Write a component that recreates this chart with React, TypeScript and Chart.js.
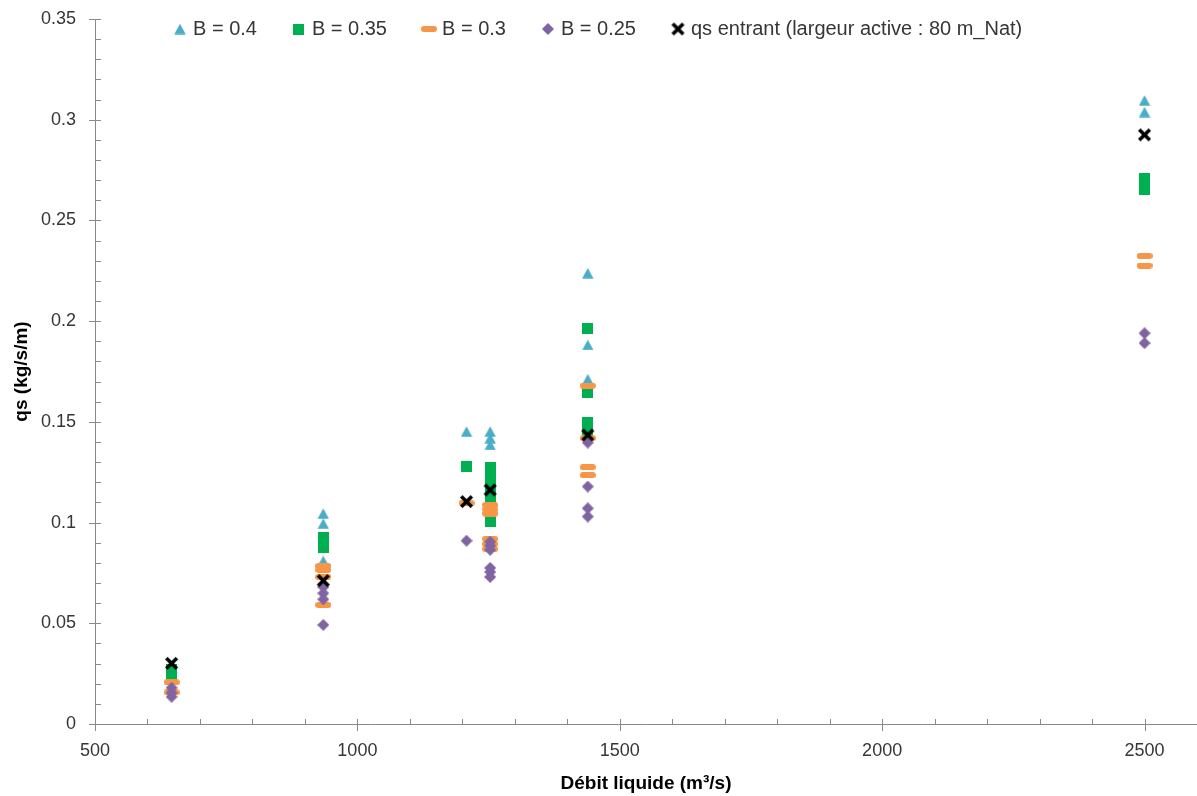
import { useEffect, useRef } from 'react';
import { Chart, registerables } from 'chart.js';

Chart.register(...registerables);

// Axis tick labels
const xTickValues = [500, 1000, 1500, 2000, 2500];
const yTickValues = [0, 0.05, 0.1, 0.15, 0.2, 0.25, 0.3, 0.35];

// Series labels
const seriesLabels = [
  'B = 0.4',
  'B = 0.35',
  'B = 0.3',
  'B = 0.25',
  'qs entrant (largeur active : 80 m_Nat)',
];

// [Débit liquide (m3/s), qs (kg/s/m)]
const b040: [number, number][] = [
  [646, 0.028],
  [935, 0.1045], [935, 0.0995], [935, 0.081],
  [1208, 0.1452],
  [1253, 0.1452], [1253, 0.1419], [1253, 0.1386], [1253, 0.1142],
  [1439, 0.2238], [1439, 0.1882], [1439, 0.1712],
  [2500, 0.3096], [2500, 0.3038],
];

const b035: [number, number][] = [
  [646, 0.027], [646, 0.024],
  [935, 0.0924], [935, 0.0874],
  [1208, 0.1278],
  [1253, 0.1275], [1253, 0.124], [1253, 0.1205], [1253, 0.117], [1253, 0.112],
  [1253, 0.108], [1253, 0.104], [1253, 0.1005],
  [1439, 0.1962], [1439, 0.1645], [1439, 0.1496], [1439, 0.1455],
  [2500, 0.2707], [2500, 0.2655],
];

const b030: [number, number][] = [
  [646, 0.0207], [646, 0.0157],
  [935, 0.0785], [935, 0.0765], [935, 0.073], [935, 0.0591],
  [1208, 0.1096],
  [1253, 0.1087], [1253, 0.1065], [1253, 0.1045], [1253, 0.0919], [1253, 0.0894], [1253, 0.0869],
  [1439, 0.168], [1439, 0.1419], [1439, 0.1275], [1439, 0.1235],
  [2500, 0.2324], [2500, 0.2276],
];

const b025: [number, number][] = [
  [646, 0.018], [646, 0.0155], [646, 0.0135],
  [935, 0.068], [935, 0.0649], [935, 0.0619], [935, 0.0492],
  [1208, 0.091],
  [1253, 0.0905], [1253, 0.0885], [1253, 0.0865], [1253, 0.0775], [1253, 0.0755], [1253, 0.073],
  [1439, 0.1397], [1439, 0.1179], [1439, 0.1071], [1439, 0.103],
  [2500, 0.194], [2500, 0.1891],
];

const qsEntrant: [number, number][] = [
  [646, 0.0301],
  [935, 0.0712],
  [1208, 0.1104],
  [1253, 0.1162],
  [1439, 0.1435],
  [2500, 0.2925],
];

const COLORS = ['#4BACC6', '#00B050', '#F79646', '#8064A2', '#000000'];
const FONT = "'Liberation Sans', Arial, sans-serif";
const TEXT = '#363636';
const AXIS = '#898989';
const LEGEND_PAD = 39;
const LEGEND_FONT = 20;

function makeMarker(kind: string, color: string): HTMLCanvasElement {
  const c = document.createElement('canvas');
  let w = 12, h = 12;
  if (kind === 'triangle') { w = 12; h = 11; }
  else if (kind === 'square') { w = 11; h = 11; }
  else if (kind === 'dash') { w = 16; h = 6; }
  else if (kind === 'diamond') { w = 12; h = 12; }
  else if (kind === 'cross') { w = 15; h = 15; }
  c.width = w; c.height = h;
  const g = c.getContext('2d')!;
  g.fillStyle = color;
  g.strokeStyle = color;
  g.beginPath();
  if (kind === 'triangle') {
    g.moveTo(w / 2, 0.3);
    g.lineTo(w - 0.3, h - 0.3);
    g.lineTo(0.3, h - 0.3);
    g.closePath();
    g.fill();
  } else if (kind === 'square') {
    g.rect(0, 0, w, h);
    g.fill();
  } else if (kind === 'dash') {
    const r = h / 2;
    g.moveTo(r, 0);
    g.lineTo(w - r, 0);
    g.arc(w - r, r, r, -Math.PI / 2, Math.PI / 2);
    g.lineTo(r, h);
    g.arc(r, r, r, Math.PI / 2, Math.PI * 1.5);
    g.closePath();
    g.fill();
  } else if (kind === 'diamond') {
    g.moveTo(w / 2, 0);
    g.lineTo(w, h / 2);
    g.lineTo(w / 2, h);
    g.lineTo(0, h / 2);
    g.closePath();
    g.fill();
  } else if (kind === 'cross') {
    g.lineWidth = 3.6;
    g.lineCap = 'butt';
    g.moveTo(2.2, 2.2); g.lineTo(w - 2.2, h - 2.2);
    g.moveTo(w - 2.2, 2.2); g.lineTo(2.2, h - 2.2);
    g.stroke();
  }
  return c;
}

const toPoints = (arr: [number, number][]) => arr.map(([x, y]) => ({ x, y }));

const tickMarksPlugin = {
  id: 'excelTickMarks',
  afterDraw(chart: any) {
    const { ctx, scales } = chart;
    const xs = scales.x;
    const ys = scales.y;
    const axisY = Math.round(chart.chartArea.bottom) + 0.5;
    const axisX = Math.round(chart.chartArea.left) + 0.5;
    ctx.save();
    ctx.strokeStyle = AXIS;
    ctx.lineWidth = 1;
    ctx.beginPath();
    // x axis: major every 500 (crossing), minor every 100 (inside)
    for (let v = xs.min; v <= xs.max + 1e-6; v += 100) {
      const px = Math.round(xs.getPixelForValue(v)) + 0.5;
      const major = Math.abs(v % 500) < 1e-6;
      ctx.moveTo(px, axisY - 5.5);
      ctx.lineTo(px, major ? axisY + 6.5 : axisY);
    }
    // y axis: major every 0.05 (crossing), minor every 0.01 (inside)
    for (let i = 0; i <= 35; i++) {
      const v = i / 100;
      const py = Math.round(ys.getPixelForValue(v)) + 0.5;
      const major = i % 5 === 0;
      ctx.moveTo(major ? axisX - 6.5 : axisX, py);
      ctx.lineTo(axisX + 5.5, py);
    }
    ctx.stroke();
    ctx.restore();
  },
};

const legendPlacer = {
  id: 'legendPlacer',
  beforeDraw(chart: any) {
    const lg = chart.legend;
    if (!lg) return;
    lg.left = 177 - LEGEND_PAD;
    lg.right = 1197;
    lg.top = 29 - LEGEND_FONT / 2 - LEGEND_PAD;
    lg.bottom = lg.top + lg.height;
  },
};

export default function App() {
  const canvasRef = useRef<HTMLCanvasElement | null>(null);

  useEffect(() => {
    document.body.style.margin = '0';
    const canvas = canvasRef.current;
    if (!canvas) return;
    const markers = [
      makeMarker('triangle', COLORS[0]),
      makeMarker('square', COLORS[1]),
      makeMarker('dash', COLORS[2]),
      makeMarker('diamond', COLORS[3]),
      makeMarker('cross', COLORS[4]),
    ];
    const series = [b040, b035, b030, b025, qsEntrant];
    const datasets = series.map((s, i) => ({
      label: seriesLabels[i],
      data: toPoints(s),
      pointStyle: markers[i] as any,
      pointRadius: 6,
      pointHoverRadius: 6,
      backgroundColor: COLORS[i],
      borderColor: COLORS[i],
      showLine: false,
      order: 5 - i,
    }));

    // space reserved by the top legend; cancelled so that the plot top sits at 19px
    const legendHeight = LEGEND_FONT + LEGEND_PAD + 10;

    const chart = new Chart(canvas, {
      type: 'scatter',
      data: { datasets },
      plugins: [tickMarksPlugin, legendPlacer],
      options: {
        animation: false,
        responsive: true,
        maintainAspectRatio: false,
        events: [],
        layout: {
          autoPadding: false,
          padding: { top: 19 - legendHeight, left: 0, right: 0, bottom: 0 },
        },
        plugins: {
          tooltip: { enabled: false },
          legend: {
            display: true,
            position: 'top',
            align: 'start',
            labels: {
              usePointStyle: true,
              boxWidth: 6,
              boxHeight: LEGEND_FONT,
              padding: LEGEND_PAD,
              color: TEXT,
              font: { family: FONT, size: LEGEND_FONT },
              sort: (a: any, b: any) => a.datasetIndex - b.datasetIndex,
            },
          },
        },
        scales: {
          x: {
            type: 'linear',
            position: 'bottom',
            min: 500,
            max: 2600,
            afterBuildTicks: (scale: any) => {
              scale.ticks = xTickValues.map((v) => ({ value: v }));
            },
            afterFit: (scale: any) => {
              scale.height = 72;
            },
            ticks: {
              padding: 16,
              color: TEXT,
              font: { family: FONT, size: 18 },
              maxRotation: 0,
              autoSkip: false,
              callback: (v: any) => String(v),
            },
            grid: { display: false, drawTicks: false },
            border: { display: true, color: AXIS, width: 1 },
            title: {
              display: true,
              text: 'Débit liquide (m³/s)',
              color: '#000000',
              font: { family: FONT, size: 19, weight: 'bold' },
              padding: { top: 0, bottom: 1 },
            },
          },
          y: {
            type: 'linear',
            min: 0,
            max: 0.35,
            afterBuildTicks: (scale: any) => {
              scale.ticks = yTickValues.map((v) => ({ value: v }));
            },
            afterFit: (scale: any) => {
              scale.width = 95;
            },
            ticks: {
              padding: 0,
              color: TEXT,
              font: { family: FONT, size: 18 },
              autoSkip: false,
              callback: (v: any) => String(v),
            },
            grid: {
              display: true,
              drawOnChartArea: false,
              drawTicks: true,
              tickLength: 19,
              color: 'rgba(0,0,0,0)',
            },
            border: { display: true, color: AXIS, width: 1 },
            title: {
              display: true,
              text: 'qs (kg/s/m)',
              color: '#000000',
              font: { family: FONT, size: 19, weight: 'bold' },
              padding: { top: 10, bottom: 0 },
            },
          },
        },
      } as any,
    });

    return () => {
      chart.destroy();
    };
  }, []);

  return (
    <div style={{ position: 'relative', width: 1197, height: 796 }}>
      <canvas ref={canvasRef} />
    </div>
  );
}
